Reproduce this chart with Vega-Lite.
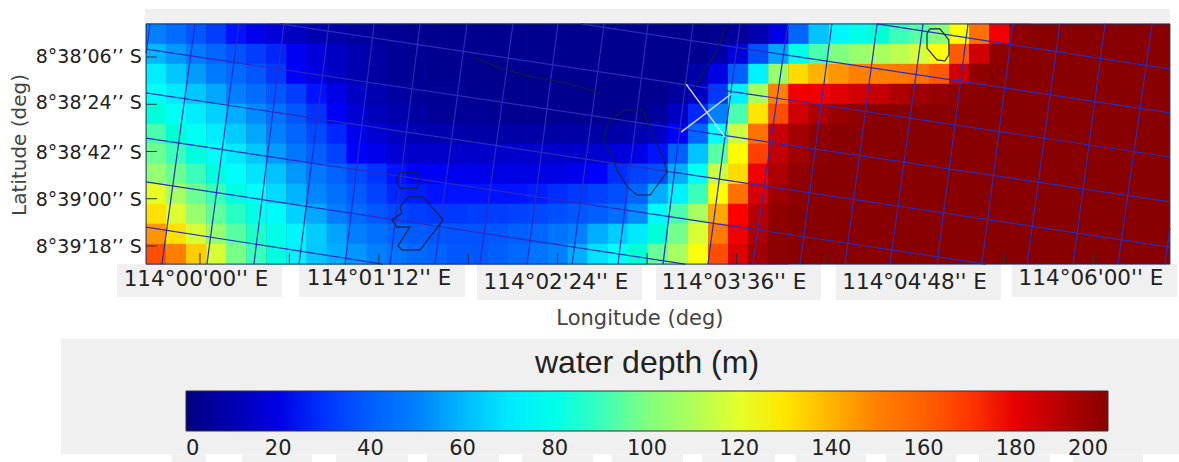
{"$schema":"https://vega.github.io/schema/vega-lite/v6.json","width":1179,"height":462,"padding":0,"autosize":{"type":"none"},"background":"white","config":{"view":{"stroke":null},"axis":{"disable":true}},
"datasets":{
"panels":[{"lon0":-22.1,"lon1":390.5,"lat0":-18.3,"lat1":-12.6},{"lon0":-33.4,"lon1":33.0,"lat0":78.9,"lat1":91.4},{"lon0":39.9,"lon1":106.7,"lat0":78.9,"lat1":91.4},{"lon0":111.5,"lon1":178.0,"lat0":78.9,"lat1":92.6},{"lon0":183.6,"lon1":250.0,"lat0":78.9,"lat1":92.6},{"lon0":256.1,"lon1":322.5,"lat0":78.9,"lat1":92.6},{"lon0":326.9,"lon1":393.3,"lat0":78.9,"lat1":91.4},{"lon0":-56.0,"lon1":394.2,"lat0":107.4,"lat1":151.3},{"lon0":-11.3,"lon1":2.4,"lat0":151.3,"lat1":154.3},{"lon0":16.9,"lon1":45.1,"lat0":151.3,"lat1":154.3},{"lon0":54.8,"lon1":83.7,"lat0":151.3,"lat1":154.3},{"lon0":91.4,"lon1":120.4,"lat0":151.3,"lat1":154.3},{"lon0":129.6,"lon1":158.2,"lat0":151.3,"lat1":154.3},{"lon0":165.9,"lon1":194.5,"lat0":151.3,"lat1":154.3},{"lon0":202.1,"lon1":231.5,"lat0":151.3,"lat1":154.3},{"lon0":240.0,"lon1":268.1,"lat0":151.3,"lat1":154.3},{"lon0":276.2,"lon1":304.4,"lat0":151.3,"lat1":154.3},{"lon0":313.6,"lon1":342.2,"lat0":151.3,"lat1":154.3},{"lon0":351.5,"lon1":379.7,"lat0":151.3,"lat1":154.3}],
"plot":[{"lon0":-21.7,"lon1":390.5,"lat0":-12.6,"lat1":78.9,"v":200}],
"cells":[
{"lon":-17.7,"lat":-8.8,"v":50},{"lon":-9.6,"lat":-8.8,"v":44},{"lon":-1.5,"lat":-8.8,"v":38},{"lon":6.6,"lat":-8.8,"v":32},{"lon":14.6,"lat":-8.8,"v":26},{"lon":22.7,"lat":-8.8,"v":22},{"lon":30.8,"lat":-8.8,"v":18},{"lon":38.9,"lat":-8.8,"v":14},{"lon":47.0,"lat":-8.8,"v":10},{"lon":55.1,"lat":-8.8,"v":8},{"lon":63.1,"lat":-8.8,"v":6},{"lon":71.2,"lat":-8.8,"v":5},{"lon":79.3,"lat":-8.8,"v":4},{"lon":87.4,"lat":-8.8,"v":3},{"lon":95.5,"lat":-8.8,"v":3},{"lon":103.6,"lat":-8.8,"v":3},{"lon":111.6,"lat":-8.8,"v":3},{"lon":119.7,"lat":-8.8,"v":3},{"lon":127.8,"lat":-8.8,"v":3},{"lon":135.9,"lat":-8.8,"v":3},{"lon":144.0,"lat":-8.8,"v":3},{"lon":152.1,"lat":-8.8,"v":3},{"lon":160.1,"lat":-8.8,"v":3},{"lon":168.2,"lat":-8.8,"v":3},{"lon":176.3,"lat":-8.8,"v":3},{"lon":184.4,"lat":-8.8,"v":3},{"lon":192.5,"lat":-8.8,"v":3},{"lon":200.6,"lat":-8.8,"v":3},{"lon":208.7,"lat":-8.8,"v":4},{"lon":216.7,"lat":-8.8,"v":5},{"lon":224.8,"lat":-8.8,"v":10},{"lon":232.9,"lat":-8.8,"v":20},{"lon":241.0,"lat":-8.8,"v":42},{"lon":249.1,"lat":-8.8,"v":62},{"lon":257.2,"lat":-8.8,"v":73},{"lon":265.2,"lat":-8.8,"v":80},{"lon":273.3,"lat":-8.8,"v":85},{"lon":281.4,"lat":-8.8,"v":90},{"lon":289.5,"lat":-8.8,"v":94},{"lon":297.6,"lat":-8.8,"v":102},{"lon":305.7,"lat":-8.8,"v":125},{"lon":313.7,"lat":-8.8,"v":155},{"lon":321.8,"lat":-8.8,"v":178},{"lon":329.9,"lat":-8.8,"v":198},
{"lon":-17.7,"lat":-1.1,"v":60},{"lon":-9.6,"lat":-1.1,"v":54},{"lon":-1.5,"lat":-1.1,"v":48},{"lon":6.6,"lat":-1.1,"v":42},{"lon":14.6,"lat":-1.1,"v":37},{"lon":22.7,"lat":-1.1,"v":32},{"lon":30.8,"lat":-1.1,"v":28},{"lon":38.9,"lat":-1.1,"v":23},{"lon":47.0,"lat":-1.1,"v":18},{"lon":55.1,"lat":-1.1,"v":14},{"lon":63.1,"lat":-1.1,"v":10},{"lon":71.2,"lat":-1.1,"v":7},{"lon":79.3,"lat":-1.1,"v":5},{"lon":87.4,"lat":-1.1,"v":4},{"lon":95.5,"lat":-1.1,"v":3},{"lon":103.6,"lat":-1.1,"v":3},{"lon":111.6,"lat":-1.1,"v":3},{"lon":119.7,"lat":-1.1,"v":3},{"lon":127.8,"lat":-1.1,"v":3},{"lon":135.9,"lat":-1.1,"v":3},{"lon":144.0,"lat":-1.1,"v":3},{"lon":152.1,"lat":-1.1,"v":3},{"lon":160.1,"lat":-1.1,"v":3},{"lon":168.2,"lat":-1.1,"v":3},{"lon":176.3,"lat":-1.1,"v":3},{"lon":184.4,"lat":-1.1,"v":3},{"lon":192.5,"lat":-1.1,"v":3},{"lon":200.6,"lat":-1.1,"v":3},{"lon":208.7,"lat":-1.1,"v":8},{"lon":216.7,"lat":-1.1,"v":18},{"lon":224.8,"lat":-1.1,"v":36},{"lon":232.9,"lat":-1.1,"v":56},{"lon":241.0,"lat":-1.1,"v":80},{"lon":249.1,"lat":-1.1,"v":92},{"lon":257.2,"lat":-1.1,"v":100},{"lon":265.2,"lat":-1.1,"v":105},{"lon":273.3,"lat":-1.1,"v":108},{"lon":281.4,"lat":-1.1,"v":112},{"lon":289.5,"lat":-1.1,"v":117},{"lon":297.6,"lat":-1.1,"v":124},{"lon":305.7,"lat":-1.1,"v":162},{"lon":313.7,"lat":-1.1,"v":185},{"lon":321.8,"lat":-1.1,"v":198},
{"lon":-17.7,"lat":6.5,"v":71},{"lon":-9.6,"lat":6.5,"v":63},{"lon":-1.5,"lat":6.5,"v":55},{"lon":6.6,"lat":6.5,"v":48},{"lon":14.6,"lat":6.5,"v":43},{"lon":22.7,"lat":6.5,"v":38},{"lon":30.8,"lat":6.5,"v":31},{"lon":38.9,"lat":6.5,"v":24},{"lon":47.0,"lat":6.5,"v":19},{"lon":55.1,"lat":6.5,"v":14},{"lon":63.1,"lat":6.5,"v":10},{"lon":71.2,"lat":6.5,"v":7},{"lon":79.3,"lat":6.5,"v":5},{"lon":87.4,"lat":6.5,"v":4},{"lon":95.5,"lat":6.5,"v":3},{"lon":103.6,"lat":6.5,"v":3},{"lon":111.6,"lat":6.5,"v":3},{"lon":119.7,"lat":6.5,"v":3},{"lon":127.8,"lat":6.5,"v":3},{"lon":135.9,"lat":6.5,"v":3},{"lon":144.0,"lat":6.5,"v":3},{"lon":152.1,"lat":6.5,"v":3},{"lon":160.1,"lat":6.5,"v":3},{"lon":168.2,"lat":6.5,"v":3},{"lon":176.3,"lat":6.5,"v":3},{"lon":184.4,"lat":6.5,"v":3},{"lon":192.5,"lat":6.5,"v":3},{"lon":200.6,"lat":6.5,"v":8},{"lon":208.7,"lat":6.5,"v":20},{"lon":216.7,"lat":6.5,"v":40},{"lon":224.8,"lat":6.5,"v":72},{"lon":232.9,"lat":6.5,"v":105},{"lon":241.0,"lat":6.5,"v":132},{"lon":249.1,"lat":6.5,"v":140},{"lon":257.2,"lat":6.5,"v":146},{"lon":265.2,"lat":6.5,"v":150},{"lon":273.3,"lat":6.5,"v":150},{"lon":281.4,"lat":6.5,"v":152},{"lon":289.5,"lat":6.5,"v":155},{"lon":297.6,"lat":6.5,"v":162},{"lon":305.7,"lat":6.5,"v":185},{"lon":313.7,"lat":6.5,"v":198},
{"lon":-17.7,"lat":14.1,"v":78},{"lon":-9.6,"lat":14.1,"v":70},{"lon":-1.5,"lat":14.1,"v":63},{"lon":6.6,"lat":14.1,"v":57},{"lon":14.6,"lat":14.1,"v":50},{"lon":22.7,"lat":14.1,"v":44},{"lon":30.8,"lat":14.1,"v":38},{"lon":38.9,"lat":14.1,"v":32},{"lon":47.0,"lat":14.1,"v":26},{"lon":55.1,"lat":14.1,"v":20},{"lon":63.1,"lat":14.1,"v":14},{"lon":71.2,"lat":14.1,"v":10},{"lon":79.3,"lat":14.1,"v":7},{"lon":87.4,"lat":14.1,"v":5},{"lon":95.5,"lat":14.1,"v":4},{"lon":103.6,"lat":14.1,"v":4},{"lon":111.6,"lat":14.1,"v":3},{"lon":119.7,"lat":14.1,"v":3},{"lon":127.8,"lat":14.1,"v":3},{"lon":135.9,"lat":14.1,"v":3},{"lon":144.0,"lat":14.1,"v":3},{"lon":152.1,"lat":14.1,"v":3},{"lon":160.1,"lat":14.1,"v":3},{"lon":168.2,"lat":14.1,"v":3},{"lon":176.3,"lat":14.1,"v":3},{"lon":184.4,"lat":14.1,"v":3},{"lon":192.5,"lat":14.1,"v":6},{"lon":200.6,"lat":14.1,"v":14},{"lon":208.7,"lat":14.1,"v":31},{"lon":216.7,"lat":14.1,"v":72},{"lon":224.8,"lat":14.1,"v":108},{"lon":232.9,"lat":14.1,"v":150},{"lon":241.0,"lat":14.1,"v":178},{"lon":249.1,"lat":14.1,"v":178},{"lon":257.2,"lat":14.1,"v":181},{"lon":265.2,"lat":14.1,"v":184},{"lon":273.3,"lat":14.1,"v":187},{"lon":281.4,"lat":14.1,"v":192},{"lon":289.5,"lat":14.1,"v":195},{"lon":297.6,"lat":14.1,"v":197},{"lon":305.7,"lat":14.1,"v":199},
{"lon":-17.7,"lat":21.7,"v":84},{"lon":-9.6,"lat":21.7,"v":78},{"lon":-1.5,"lat":21.7,"v":71},{"lon":6.6,"lat":21.7,"v":65},{"lon":14.6,"lat":21.7,"v":58},{"lon":22.7,"lat":21.7,"v":52},{"lon":30.8,"lat":21.7,"v":45},{"lon":38.9,"lat":21.7,"v":38},{"lon":47.0,"lat":21.7,"v":30},{"lon":55.1,"lat":21.7,"v":23},{"lon":63.1,"lat":21.7,"v":17},{"lon":71.2,"lat":21.7,"v":12},{"lon":79.3,"lat":21.7,"v":9},{"lon":87.4,"lat":21.7,"v":7},{"lon":95.5,"lat":21.7,"v":5},{"lon":103.6,"lat":21.7,"v":5},{"lon":111.6,"lat":21.7,"v":5},{"lon":119.7,"lat":21.7,"v":4},{"lon":127.8,"lat":21.7,"v":3},{"lon":135.9,"lat":21.7,"v":3},{"lon":144.0,"lat":21.7,"v":3},{"lon":152.1,"lat":21.7,"v":3},{"lon":160.1,"lat":21.7,"v":3},{"lon":168.2,"lat":21.7,"v":3},{"lon":176.3,"lat":21.7,"v":3},{"lon":184.4,"lat":21.7,"v":6},{"lon":192.5,"lat":21.7,"v":14},{"lon":200.6,"lat":21.7,"v":28},{"lon":208.7,"lat":21.7,"v":50},{"lon":216.7,"lat":21.7,"v":92},{"lon":224.8,"lat":21.7,"v":130},{"lon":232.9,"lat":21.7,"v":165},{"lon":241.0,"lat":21.7,"v":185},{"lon":249.1,"lat":21.7,"v":192},{"lon":257.2,"lat":21.7,"v":196},{"lon":265.2,"lat":21.7,"v":198},
{"lon":-17.7,"lat":29.3,"v":92},{"lon":-9.6,"lat":29.3,"v":85},{"lon":-1.5,"lat":29.3,"v":78},{"lon":6.6,"lat":29.3,"v":71},{"lon":14.6,"lat":29.3,"v":64},{"lon":22.7,"lat":29.3,"v":57},{"lon":30.8,"lat":29.3,"v":50},{"lon":38.9,"lat":29.3,"v":42},{"lon":47.0,"lat":29.3,"v":35},{"lon":55.1,"lat":29.3,"v":28},{"lon":63.1,"lat":29.3,"v":22},{"lon":71.2,"lat":29.3,"v":17},{"lon":79.3,"lat":29.3,"v":13},{"lon":87.4,"lat":29.3,"v":10},{"lon":95.5,"lat":29.3,"v":9},{"lon":103.6,"lat":29.3,"v":9},{"lon":111.6,"lat":29.3,"v":8},{"lon":119.7,"lat":29.3,"v":8},{"lon":127.8,"lat":29.3,"v":8},{"lon":135.9,"lat":29.3,"v":8},{"lon":144.0,"lat":29.3,"v":8},{"lon":152.1,"lat":29.3,"v":8},{"lon":160.1,"lat":29.3,"v":8},{"lon":168.2,"lat":29.3,"v":8},{"lon":176.3,"lat":29.3,"v":10},{"lon":184.4,"lat":29.3,"v":14},{"lon":192.5,"lat":29.3,"v":24},{"lon":200.6,"lat":29.3,"v":42},{"lon":208.7,"lat":29.3,"v":76},{"lon":216.7,"lat":29.3,"v":115},{"lon":224.8,"lat":29.3,"v":155},{"lon":232.9,"lat":29.3,"v":186},{"lon":241.0,"lat":29.3,"v":194},{"lon":249.1,"lat":29.3,"v":198},
{"lon":-17.7,"lat":36.9,"v":97},{"lon":-9.6,"lat":36.9,"v":90},{"lon":-1.5,"lat":36.9,"v":83},{"lon":6.6,"lat":36.9,"v":77},{"lon":14.6,"lat":36.9,"v":70},{"lon":22.7,"lat":36.9,"v":63},{"lon":30.8,"lat":36.9,"v":55},{"lon":38.9,"lat":36.9,"v":47},{"lon":47.0,"lat":36.9,"v":40},{"lon":55.1,"lat":36.9,"v":33},{"lon":63.1,"lat":36.9,"v":25},{"lon":71.2,"lat":36.9,"v":21},{"lon":79.3,"lat":36.9,"v":17},{"lon":87.4,"lat":36.9,"v":15},{"lon":95.5,"lat":36.9,"v":15},{"lon":103.6,"lat":36.9,"v":15},{"lon":111.6,"lat":36.9,"v":15},{"lon":119.7,"lat":36.9,"v":15},{"lon":127.8,"lat":36.9,"v":15},{"lon":135.9,"lat":36.9,"v":15},{"lon":144.0,"lat":36.9,"v":15},{"lon":152.1,"lat":36.9,"v":15},{"lon":160.1,"lat":36.9,"v":16},{"lon":168.2,"lat":36.9,"v":18},{"lon":176.3,"lat":36.9,"v":20},{"lon":184.4,"lat":36.9,"v":26},{"lon":192.5,"lat":36.9,"v":40},{"lon":200.6,"lat":36.9,"v":62},{"lon":208.7,"lat":36.9,"v":94},{"lon":216.7,"lat":36.9,"v":125},{"lon":224.8,"lat":36.9,"v":168},{"lon":232.9,"lat":36.9,"v":188},{"lon":241.0,"lat":36.9,"v":195},{"lon":249.1,"lat":36.9,"v":199},
{"lon":-17.7,"lat":44.5,"v":104},{"lon":-9.6,"lat":44.5,"v":97},{"lon":-1.5,"lat":44.5,"v":90},{"lon":6.6,"lat":44.5,"v":83},{"lon":14.6,"lat":44.5,"v":76},{"lon":22.7,"lat":44.5,"v":69},{"lon":30.8,"lat":44.5,"v":62},{"lon":38.9,"lat":44.5,"v":54},{"lon":47.0,"lat":44.5,"v":47},{"lon":55.1,"lat":44.5,"v":41},{"lon":63.1,"lat":44.5,"v":35},{"lon":71.2,"lat":44.5,"v":30},{"lon":79.3,"lat":44.5,"v":26},{"lon":87.4,"lat":44.5,"v":24},{"lon":95.5,"lat":44.5,"v":23},{"lon":103.6,"lat":44.5,"v":22},{"lon":111.6,"lat":44.5,"v":21},{"lon":119.7,"lat":44.5,"v":20},{"lon":127.8,"lat":44.5,"v":20},{"lon":135.9,"lat":44.5,"v":20},{"lon":144.0,"lat":44.5,"v":20},{"lon":152.1,"lat":44.5,"v":22},{"lon":160.1,"lat":44.5,"v":25},{"lon":168.2,"lat":44.5,"v":29},{"lon":176.3,"lat":44.5,"v":33},{"lon":184.4,"lat":44.5,"v":36},{"lon":192.5,"lat":44.5,"v":58},{"lon":200.6,"lat":44.5,"v":78},{"lon":208.7,"lat":44.5,"v":115},{"lon":216.7,"lat":44.5,"v":132},{"lon":224.8,"lat":44.5,"v":178},{"lon":232.9,"lat":44.5,"v":192},{"lon":241.0,"lat":44.5,"v":198},
{"lon":-17.7,"lat":52.2,"v":121},{"lon":-9.6,"lat":52.2,"v":108},{"lon":-1.5,"lat":52.2,"v":97},{"lon":6.6,"lat":52.2,"v":90},{"lon":14.6,"lat":52.2,"v":82},{"lon":22.7,"lat":52.2,"v":76},{"lon":30.8,"lat":52.2,"v":67},{"lon":38.9,"lat":52.2,"v":59},{"lon":47.0,"lat":52.2,"v":51},{"lon":55.1,"lat":52.2,"v":45},{"lon":63.1,"lat":52.2,"v":39},{"lon":71.2,"lat":52.2,"v":33},{"lon":79.3,"lat":52.2,"v":28},{"lon":87.4,"lat":52.2,"v":27},{"lon":95.5,"lat":52.2,"v":26},{"lon":103.6,"lat":52.2,"v":26},{"lon":111.6,"lat":52.2,"v":26},{"lon":119.7,"lat":52.2,"v":26},{"lon":127.8,"lat":52.2,"v":26},{"lon":135.9,"lat":52.2,"v":27},{"lon":144.0,"lat":52.2,"v":29},{"lon":152.1,"lat":52.2,"v":31},{"lon":160.1,"lat":52.2,"v":33},{"lon":168.2,"lat":52.2,"v":36},{"lon":176.3,"lat":52.2,"v":42},{"lon":184.4,"lat":52.2,"v":58},{"lon":192.5,"lat":52.2,"v":72},{"lon":200.6,"lat":52.2,"v":90},{"lon":208.7,"lat":52.2,"v":125},{"lon":216.7,"lat":52.2,"v":155},{"lon":224.8,"lat":52.2,"v":183},{"lon":232.9,"lat":52.2,"v":195},{"lon":241.0,"lat":52.2,"v":199},
{"lon":-17.7,"lat":59.8,"v":131},{"lon":-9.6,"lat":59.8,"v":119},{"lon":-1.5,"lat":59.8,"v":105},{"lon":6.6,"lat":59.8,"v":95},{"lon":14.6,"lat":59.8,"v":88},{"lon":22.7,"lat":59.8,"v":81},{"lon":30.8,"lat":59.8,"v":74},{"lon":38.9,"lat":59.8,"v":65},{"lon":47.0,"lat":59.8,"v":57},{"lon":55.1,"lat":59.8,"v":49},{"lon":63.1,"lat":59.8,"v":43},{"lon":71.2,"lat":59.8,"v":38},{"lon":79.3,"lat":59.8,"v":34},{"lon":87.4,"lat":59.8,"v":32},{"lon":95.5,"lat":59.8,"v":31},{"lon":103.6,"lat":59.8,"v":31},{"lon":111.6,"lat":59.8,"v":32},{"lon":119.7,"lat":59.8,"v":32},{"lon":127.8,"lat":59.8,"v":33},{"lon":135.9,"lat":59.8,"v":34},{"lon":144.0,"lat":59.8,"v":36},{"lon":152.1,"lat":59.8,"v":38},{"lon":160.1,"lat":59.8,"v":40},{"lon":168.2,"lat":59.8,"v":44},{"lon":176.3,"lat":59.8,"v":52},{"lon":184.4,"lat":59.8,"v":74},{"lon":192.5,"lat":59.8,"v":92},{"lon":200.6,"lat":59.8,"v":108},{"lon":208.7,"lat":59.8,"v":142},{"lon":216.7,"lat":59.8,"v":175},{"lon":224.8,"lat":59.8,"v":190},{"lon":232.9,"lat":59.8,"v":198},
{"lon":-17.7,"lat":67.4,"v":146},{"lon":-9.6,"lat":67.4,"v":131},{"lon":-1.5,"lat":67.4,"v":118},{"lon":6.6,"lat":67.4,"v":104},{"lon":14.6,"lat":67.4,"v":94},{"lon":22.7,"lat":67.4,"v":87},{"lon":30.8,"lat":67.4,"v":80},{"lon":38.9,"lat":67.4,"v":73},{"lon":47.0,"lat":67.4,"v":64},{"lon":55.1,"lat":67.4,"v":56},{"lon":63.1,"lat":67.4,"v":50},{"lon":71.2,"lat":67.4,"v":45},{"lon":79.3,"lat":67.4,"v":41},{"lon":87.4,"lat":67.4,"v":39},{"lon":95.5,"lat":67.4,"v":38},{"lon":103.6,"lat":67.4,"v":37},{"lon":111.6,"lat":67.4,"v":37},{"lon":119.7,"lat":67.4,"v":38},{"lon":127.8,"lat":67.4,"v":40},{"lon":135.9,"lat":67.4,"v":42},{"lon":144.0,"lat":67.4,"v":46},{"lon":152.1,"lat":67.4,"v":50},{"lon":160.1,"lat":67.4,"v":58},{"lon":168.2,"lat":67.4,"v":64},{"lon":176.3,"lat":67.4,"v":70},{"lon":184.4,"lat":67.4,"v":84},{"lon":192.5,"lat":67.4,"v":98},{"lon":200.6,"lat":67.4,"v":118},{"lon":208.7,"lat":67.4,"v":152},{"lon":216.7,"lat":67.4,"v":178},{"lon":224.8,"lat":67.4,"v":192},{"lon":232.9,"lat":67.4,"v":199},
{"lon":-17.7,"lat":75.1,"v":165},{"lon":-9.6,"lat":75.1,"v":150},{"lon":-1.5,"lat":75.1,"v":135},{"lon":6.6,"lat":75.1,"v":118},{"lon":14.6,"lat":75.1,"v":99},{"lon":22.7,"lat":75.1,"v":90},{"lon":30.8,"lat":75.1,"v":83},{"lon":38.9,"lat":75.1,"v":72},{"lon":47.0,"lat":75.1,"v":63},{"lon":55.1,"lat":75.1,"v":58},{"lon":63.1,"lat":75.1,"v":54},{"lon":71.2,"lat":75.1,"v":50},{"lon":79.3,"lat":75.1,"v":46},{"lon":87.4,"lat":75.1,"v":43},{"lon":95.5,"lat":75.1,"v":41},{"lon":103.6,"lat":75.1,"v":38},{"lon":111.6,"lat":75.1,"v":38},{"lon":119.7,"lat":75.1,"v":40},{"lon":127.8,"lat":75.1,"v":43},{"lon":135.9,"lat":75.1,"v":46},{"lon":144.0,"lat":75.1,"v":50},{"lon":152.1,"lat":75.1,"v":58},{"lon":160.1,"lat":75.1,"v":68},{"lon":168.2,"lat":75.1,"v":76},{"lon":176.3,"lat":75.1,"v":85},{"lon":184.4,"lat":75.1,"v":96},{"lon":192.5,"lat":75.1,"v":108},{"lon":200.6,"lat":75.1,"v":124},{"lon":208.7,"lat":75.1,"v":165},{"lon":216.7,"lat":75.1,"v":182},{"lon":224.8,"lat":75.1,"v":195},{"lon":232.9,"lat":75.1,"v":199}
],
"grid":[
{"g":"v0","o":0,"lon":-20.1,"lat":-12.6},{"g":"v0","o":1,"lon":-21.7,"lat":-1.5},
{"g":"v1","o":0,"lon":-2.0,"lat":-12.6},{"g":"v1","o":1,"lon":-15.3,"lat":78.9},
{"g":"v2","o":0,"lon":15.7,"lat":-12.6},{"g":"v2","o":1,"lon":2.8,"lat":78.9},
{"g":"v3","o":0,"lon":33.8,"lat":-12.6},{"g":"v3","o":1,"lon":21.7,"lat":78.9},
{"g":"v4","o":0,"lon":51.9,"lat":-12.6},{"g":"v4","o":1,"lon":39.9,"lat":78.9},
{"g":"v5","o":0,"lon":70.1,"lat":-12.6},{"g":"v5","o":1,"lon":58.4,"lat":78.9},
{"g":"v6","o":0,"lon":88.6,"lat":-12.6},{"g":"v6","o":1,"lon":76.5,"lat":78.9},
{"g":"v7","o":0,"lon":107.5,"lat":-12.6},{"g":"v7","o":1,"lon":94.6,"lat":78.9},
{"g":"v8","o":0,"lon":126.0,"lat":-12.6},{"g":"v8","o":1,"lon":112.7,"lat":78.9},
{"g":"v9","o":0,"lon":144.1,"lat":-12.6},{"g":"v9","o":1,"lon":131.7,"lat":78.9},
{"g":"v10","o":0,"lon":162.7,"lat":-12.6},{"g":"v10","o":1,"lon":149.8,"lat":78.9},
{"g":"v11","o":0,"lon":180.4,"lat":-12.6},{"g":"v11","o":1,"lon":168.3,"lat":78.9},
{"g":"v12","o":0,"lon":198.5,"lat":-12.6},{"g":"v12","o":1,"lon":186.4,"lat":78.9},
{"g":"v13","o":0,"lon":217.4,"lat":-12.6},{"g":"v13","o":1,"lon":204.5,"lat":78.9},
{"g":"v14","o":0,"lon":236.7,"lat":-12.6},{"g":"v14","o":1,"lon":222.6,"lat":78.9},
{"g":"v15","o":0,"lon":254.4,"lat":-12.6},{"g":"v15","o":1,"lon":241.6,"lat":78.9},
{"g":"v16","o":0,"lon":272.6,"lat":-12.6},{"g":"v16","o":1,"lon":259.7,"lat":78.9},
{"g":"v17","o":0,"lon":291.1,"lat":-12.6},{"g":"v17","o":1,"lon":277.8,"lat":78.9},
{"g":"v18","o":0,"lon":309.2,"lat":-12.6},{"g":"v18","o":1,"lon":296.7,"lat":78.9},
{"g":"v19","o":0,"lon":327.3,"lat":-12.6},{"g":"v19","o":1,"lon":314.8,"lat":78.9},
{"g":"v20","o":0,"lon":346.2,"lat":-12.6},{"g":"v20","o":1,"lon":333.0,"lat":78.9},
{"g":"v21","o":0,"lon":364.4,"lat":-12.6},{"g":"v21","o":1,"lon":351.5,"lat":78.9},
{"g":"v22","o":0,"lon":383.3,"lat":-12.6},{"g":"v22","o":1,"lon":369.6,"lat":78.9},
{"g":"v23","o":0,"lon":390.5,"lat":65.2},{"g":"v23","o":1,"lon":388.5,"lat":78.9},
{"g":"h1","o":0,"lon":-21.7,"lat":-3.0},{"g":"h1","o":1,"lon":390.5,"lat":55.2},
{"g":"h2","o":0,"lon":-21.7,"lat":13.7},{"g":"h2","o":1,"lon":390.5,"lat":72.4},
{"g":"h3","o":0,"lon":-21.7,"lat":30.9},{"g":"h3","o":1,"lon":316.4,"lat":78.9},
{"g":"h4","o":0,"lon":-21.7,"lat":47.6},{"g":"h4","o":1,"lon":195.3,"lat":78.9},
{"g":"h5","o":0,"lon":-21.7,"lat":64.8},{"g":"h5","o":1,"lon":73.7,"lat":78.9},
{"g":"t3","o":0,"lon":32.2,"lat":-12.6},{"g":"t3","o":1,"lon":390.5,"lat":38.1},
{"g":"t2","o":0,"lon":153.4,"lat":-12.6},{"g":"t2","o":1,"lon":390.5,"lat":21.3},
{"g":"t1","o":0,"lon":272.6,"lat":-12.6},{"g":"t1","o":1,"lon":390.5,"lat":4.6}
],
"contours":[
{"g":"a","o":0,"lon":79.3,"lat":46.1},{"g":"a","o":1,"lon":80.5,"lat":43.9},{"g":"a","o":2,"lon":87.4,"lat":43.9},{"g":"a","o":3,"lon":88.6,"lat":46.9},{"g":"a","o":4,"lon":87.4,"lat":50.0},{"g":"a","o":5,"lon":80.5,"lat":50.0},{"g":"a","o":6,"lon":79.3,"lat":47.6},{"g":"a","o":7,"lon":79.3,"lat":46.1},
{"g":"b","o":0,"lon":83.7,"lat":53.3},{"g":"b","o":1,"lon":80.5,"lat":57.2},{"g":"b","o":2,"lon":81.3,"lat":59.4},{"g":"b","o":3,"lon":77.3,"lat":62.1},{"g":"b","o":4,"lon":79.3,"lat":64.8},{"g":"b","o":5,"lon":84.5,"lat":64.8},{"g":"b","o":6,"lon":79.7,"lat":72.0},{"g":"b","o":7,"lon":81.3,"lat":73.5},{"g":"b","o":8,"lon":88.6,"lat":73.5},{"g":"b","o":9,"lon":97.9,"lat":62.1},{"g":"b","o":10,"lon":89.8,"lat":53.3},{"g":"b","o":11,"lon":83.7,"lat":53.3},
{"g":"c","o":0,"lon":164.3,"lat":24.8},{"g":"c","o":1,"lon":162.3,"lat":31.6},{"g":"c","o":2,"lon":166.3,"lat":38.1},{"g":"c","o":3,"lon":167.9,"lat":43.1},{"g":"c","o":4,"lon":172.0,"lat":49.5},{"g":"c","o":5,"lon":176.0,"lat":52.6},{"g":"c","o":6,"lon":181.2,"lat":52.6},{"g":"c","o":7,"lon":188.0,"lat":43.9},{"g":"c","o":8,"lon":186.4,"lat":38.1},{"g":"c","o":9,"lon":182.4,"lat":30.5},{"g":"c","o":10,"lon":178.4,"lat":20.2},{"g":"c","o":11,"lon":171.1,"lat":20.2},{"g":"c","o":12,"lon":164.3,"lat":24.8},
{"g":"d","o":0,"lon":292.7,"lat":-9.1},{"g":"d","o":1,"lon":293.9,"lat":-10.7},{"g":"d","o":2,"lon":297.9,"lat":-10.7},{"g":"d","o":3,"lon":301.5,"lat":-6.5},{"g":"d","o":4,"lon":301.5,"lat":-0.8},{"g":"d","o":5,"lon":299.9,"lat":1.5},{"g":"d","o":6,"lon":296.7,"lat":1.1},{"g":"d","o":7,"lon":292.7,"lat":-3.4},{"g":"d","o":8,"lon":292.7,"lat":-9.1},
{"g":"e","o":0,"lon":109.9,"lat":0},{"g":"e","o":1,"lon":120.8,"lat":4.2},{"g":"e","o":2,"lon":134.0,"lat":7.6},{"g":"e","o":3,"lon":147.7,"lat":9.9},{"g":"e","o":4,"lon":161.1,"lat":13.7},
{"g":"f","o":0,"lon":211.4,"lat":-11.4},{"g":"f","o":1,"lon":208.3,"lat":-2.7},{"g":"f","o":2,"lon":201.3,"lat":7.6},{"g":"f","o":3,"lon":197.3,"lat":15.2}
],
"cross":[
{"g":"a","o":0,"lon":195.7,"lat":10.3},{"g":"a","o":1,"lon":211.4,"lat":30.5},
{"g":"b","o":0,"lon":193.7,"lat":28.6},{"g":"b","o":1,"lon":213.8,"lat":14.1}
],
"ticks":[
{"g":"x0","o":0,"lon":0,"lat":78.9},{"g":"x0","o":1,"lon":0,"lat":74.7},{"g":"x1","o":0,"lon":36,"lat":78.9},{"g":"x1","o":1,"lon":36,"lat":74.7},{"g":"x2","o":0,"lon":72,"lat":78.9},{"g":"x2","o":1,"lon":72,"lat":74.7},{"g":"x3","o":0,"lon":108,"lat":78.9},{"g":"x3","o":1,"lon":108,"lat":74.7},{"g":"x4","o":0,"lon":144,"lat":78.9},{"g":"x4","o":1,"lon":144,"lat":74.7},{"g":"x5","o":0,"lon":180,"lat":78.9},{"g":"x5","o":1,"lon":180,"lat":74.7},{"g":"x6","o":0,"lon":216,"lat":78.9},{"g":"x6","o":1,"lon":216,"lat":74.7},{"g":"x7","o":0,"lon":252,"lat":78.9},{"g":"x7","o":1,"lon":252,"lat":74.7},{"g":"x8","o":0,"lon":288,"lat":78.9},{"g":"x8","o":1,"lon":288,"lat":74.7},{"g":"x9","o":0,"lon":324,"lat":78.9},{"g":"x9","o":1,"lon":324,"lat":74.7},{"g":"x10","o":0,"lon":360,"lat":78.9},{"g":"x10","o":1,"lon":360,"lat":74.7},
{"g":"y0","o":0,"lon":-21.7,"lat":0},{"g":"y0","o":1,"lon":-17.3,"lat":0},{"g":"y1","o":0,"lon":-21.7,"lat":18},{"g":"y1","o":1,"lon":-17.3,"lat":18},{"g":"y2","o":0,"lon":-21.7,"lat":36},{"g":"y2","o":1,"lon":-17.3,"lat":36},{"g":"y3","o":0,"lon":-21.7,"lat":54},{"g":"y3","o":1,"lon":-17.3,"lat":54},{"g":"y4","o":0,"lon":-21.7,"lat":72},{"g":"y4","o":1,"lon":-17.3,"lat":72}
],
"xlabels":[{"lon":-1.6,"lat":85.0,"t":"114°00'00'' E"},{"lon":72.1,"lat":84.6,"t":"114°01'12'' E"},{"lon":143.3,"lat":86.1,"t":"114°02'24'' E"},{"lon":215.0,"lat":86.1,"t":"114°03'36'' E"},{"lon":287.7,"lat":86.1,"t":"114°04'48'' E"},{"lon":358.7,"lat":84.6,"t":"114°06'00'' E"}],
"ylabels":[{"lon":-23.4,"lat":0,"t":"8°38’06’’ S"},{"lon":-23.4,"lat":17.5,"t":"8°38’24’’ S"},{"lon":-23.4,"lat":36.6,"t":"8°38’42’’ S"},{"lon":-23.4,"lat":54.5,"t":"8°39’00’’ S"},{"lon":-23.4,"lat":72.4,"t":"8°39’18’’ S"}],
"xtitle":[{"lon":177.1,"lat":99.8,"t":"Longitude (deg)"}],
"ytitle":[{"lon":-72.5,"lat":33.5,"t":"Latitude (deg)"}]
},
"encoding":{"x":{"field":"lon","type":"quantitative","scale":{"domain":[-80.52,394.15],"nice":false,"zero":false},"axis":null},"y":{"field":"lat","type":"quantitative","scale":{"domain":[154.3,-21.72],"nice":false,"zero":false},"axis":null}},
"layer":[
{"data":{"name":"panels"},"mark":{"type":"rect","fill":"#f0f0f0"},"encoding":{"x":{"field":"lon0","type":"quantitative"},"x2":{"field":"lon1"},"y":{"field":"lat0","type":"quantitative"},"y2":{"field":"lat1"}}},
{"data":{"name":"plot"},"mark":{"type":"rect"},"encoding":{"x":{"field":"lon0","type":"quantitative"},"x2":{"field":"lon1"},"y":{"field":"lat0","type":"quantitative"},"y2":{"field":"lat1"},"color":{"field":"v","type":"quantitative","scale":{"domain":[0,200],"range":["#000080","#0000ff","#0080ff","#00ffff","#80ff80","#ffff00","#ff8000","#ff0000","#880000"]},"legend":{"title":"water depth (m)","direction":"horizontal","orient":"none","legendX":186,"legendY":348,"gradientLength":922,"gradientThickness":40,"gradientStrokeColor":"#333333","gradientStrokeWidth":1,"values":[0,20,40,60,80,100,120,140,160,180,200],"titleAnchor":"middle","titleLimit":700,"titleFont":"Liberation Sans","titleFontSize":32,"titleFontWeight":"normal","titleColor":"#222222","titlePadding":11,"labelFont":"DejaVu Sans","labelFontSize":21,"labelColor":"#222222","labelAlign":"center","labelOverlap":false,"labelOffset":7,"padding":0}}}},
{"data":{"name":"cells"},"mark":{"type":"rect","width":20.5,"height":20.5},"encoding":{"color":{"field":"v","type":"quantitative","scale":{"domain":[0,200],"range":["#000080","#0000ff","#0080ff","#00ffff","#80ff80","#ffff00","#ff8000","#ff0000","#880000"]},"legend":{"title":"water depth (m)","direction":"horizontal","orient":"none","legendX":186,"legendY":348,"gradientLength":922,"gradientThickness":40,"gradientStrokeColor":"#333333","gradientStrokeWidth":1,"values":[0,20,40,60,80,100,120,140,160,180,200],"titleAnchor":"middle","titleLimit":700,"titleFont":"Liberation Sans","titleFontSize":32,"titleFontWeight":"normal","titleColor":"#222222","titlePadding":11,"labelFont":"DejaVu Sans","labelFontSize":21,"labelColor":"#222222","labelAlign":"center","labelOverlap":false,"labelOffset":7,"padding":0}}}},
{"data":{"name":"grid"},"mark":{"type":"line","stroke":"#2a2cc0","strokeWidth":1.2},"encoding":{"detail":{"field":"g"},"order":{"field":"o","type":"quantitative"}}},
{"data":{"name":"contours"},"mark":{"type":"line","stroke":"#10203a","strokeWidth":1.1},"encoding":{"detail":{"field":"g"},"order":{"field":"o","type":"quantitative"}}},
{"data":{"name":"cross"},"mark":{"type":"line","stroke":"#dcdcf0","strokeWidth":1.4},"encoding":{"detail":{"field":"g"},"order":{"field":"o","type":"quantitative"}}},
{"data":{"name":"ticks"},"mark":{"type":"line","stroke":"#1c3a3a","strokeWidth":1},"encoding":{"detail":{"field":"g"},"order":{"field":"o","type":"quantitative"}}},
{"data":{"name":"plot"},"mark":{"type":"rect","fillOpacity":0,"stroke":"#16306a","strokeWidth":1},"encoding":{"x":{"field":"lon0","type":"quantitative"},"x2":{"field":"lon1"},"y":{"field":"lat0","type":"quantitative"},"y2":{"field":"lat1"}}},
{"data":{"name":"xlabels"},"mark":{"type":"text","font":"DejaVu Sans","fontSize":21.5,"color":"#222222","align":"center","baseline":"middle"},"encoding":{"text":{"field":"t"}}},
{"data":{"name":"ylabels"},"mark":{"type":"text","font":"DejaVu Sans","fontSize":19,"color":"#222222","align":"right","baseline":"middle"},"encoding":{"text":{"field":"t"}}},
{"data":{"name":"xtitle"},"mark":{"type":"text","font":"DejaVu Sans","fontSize":21,"color":"#444444","align":"center","baseline":"middle"},"encoding":{"text":{"field":"t"}}},
{"data":{"name":"ytitle"},"mark":{"type":"text","font":"DejaVu Sans","fontSize":20,"color":"#444444","align":"center","baseline":"middle","angle":270},"encoding":{"text":{"field":"t"}}}
]}
